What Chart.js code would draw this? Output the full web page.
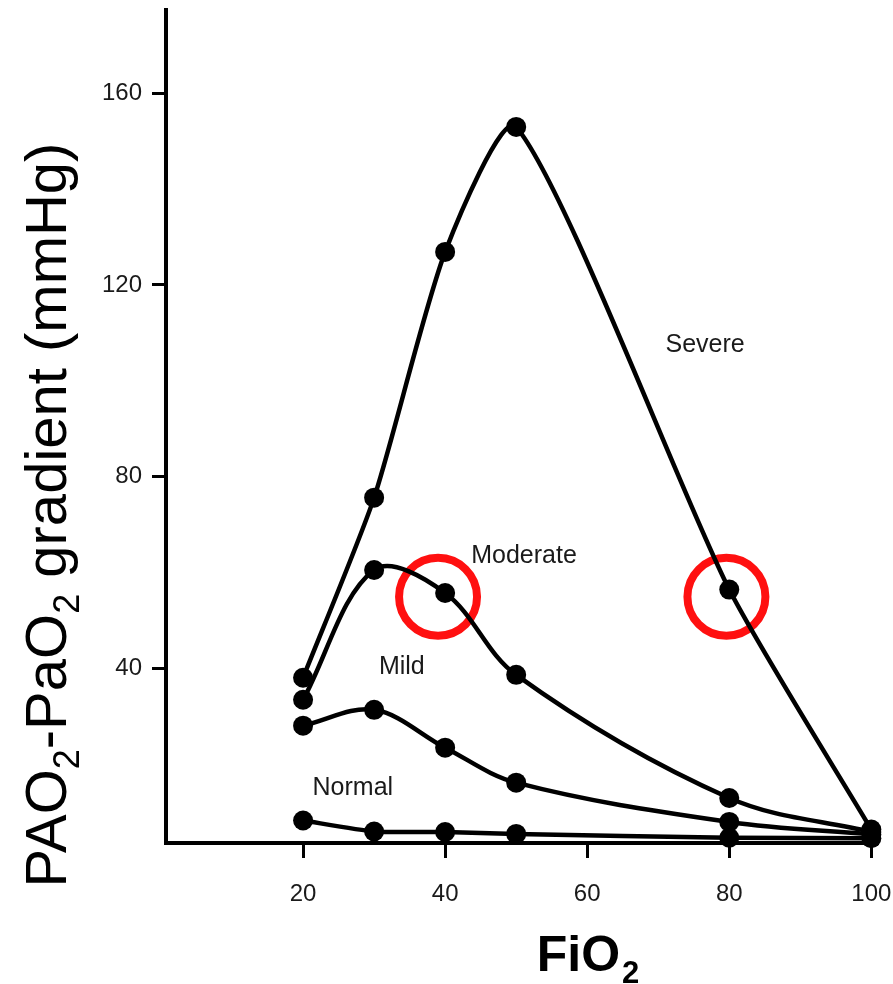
<!DOCTYPE html>
<html>
<head>
<meta charset="utf-8">
<script src="https://cdn.jsdelivr.net/npm/chart.js@4/dist/chart.umd.min.js"></script>
<style>
html,body{margin:0;padding:0;background:#fff;}
#c{display:block;}
</style>
</head>
<body>
<canvas id="c" width="893" height="984"></canvas>
<script>
// ---- data ----
const fio2 = [20, 30, 40, 50, 80, 100];
const severe = [38.0, 75.6, 126.9, 153.0, 56.4, 6.3];
const moderate = [33.4, 60.5, 55.7, 38.6, 12.9, 5.8];
const mild = [28.0, 31.3, 23.4, 16.1, 7.9, 5.3];
const normal = [8.2, 5.9, 5.8, 5.4, 4.6, 4.5];
const xTicks = [20, 40, 60, 80, 100];
const yTicks = [40, 80, 120, 160];
const seriesNames = ['Severe', 'Moderate', 'Mild', 'Normal'];
const nameX = [76.6, 51.1, 33.9, 27.0];
const nameY = [107.5, 63.3, 40.3, 15.0];
const highlightX = [39.0, 79.6];
const highlightY = [54.9, 54.9];

const toPts = (ys) => fio2.map((x, i) => ({x: x, y: ys[i]}));

const lineStyle = {
  borderColor: '#000',
  backgroundColor: '#000',
  borderWidth: 4.5,
  pointRadius: 10,
  pointHoverRadius: 10,
  pointBackgroundColor: '#000',
  pointBorderWidth: 0,
  tension: 0.35,
  clip: false,
  showLine: true,
  fill: false
};

const annotate = {
  id: 'annotate',
  afterDatasetsDraw(chart) {
    const ctx = chart.ctx;
    const xs = chart.scales.x, ys = chart.scales.y;
    ctx.save();
    ctx.fillStyle = '#1a1a1a';
    ctx.font = '25px "Liberation Sans", Arial, sans-serif';
    ctx.textAlign = 'center';
    ctx.textBaseline = 'middle';
    seriesNames.forEach((n, i) => {
      ctx.fillText(n, xs.getPixelForValue(nameX[i]), ys.getPixelForValue(nameY[i]));
    });
    ctx.restore();
  },
  afterDraw(chart) {
    const ctx = chart.ctx;
    // y-axis title, rotated
    const S = 58, s = Math.round(S * 0.62);
    const segs = [['PAO', false], ['2', true], ['-PaO', false], ['2', true], [' gradient (mmHg)', false]];
    ctx.save();
    ctx.fillStyle = '#000';
    ctx.textBaseline = 'alphabetic';
    ctx.textAlign = 'left';
    let W = 0;
    const widths = segs.map(([t, sub]) => {
      ctx.font = (sub ? s : S) + 'px "Liberation Sans", Arial, sans-serif';
      const w = ctx.measureText(t).width; W += w; return w;
    });
    ctx.translate(66, 515);
    ctx.rotate(-Math.PI / 2);
    let x = -W / 2;
    segs.forEach(([t, sub], i) => {
      ctx.font = (sub ? s : S) + 'px "Liberation Sans", Arial, sans-serif';
      ctx.fillText(t, x, sub ? S * 0.22 : 0);
      x += widths[i];
    });
    ctx.restore();

    // x-axis title
    ctx.save();
    ctx.fillStyle = '#000';
    ctx.textBaseline = 'alphabetic';
    ctx.textAlign = 'left';
    ctx.font = 'bold 50px "Liberation Sans", Arial, sans-serif';
    const w1 = ctx.measureText('FiO').width;
    ctx.font = 'bold 31px "Liberation Sans", Arial, sans-serif';
    const w2 = ctx.measureText('2').width;
    const left = 588 - (w1 + w2 + 2) / 2;
    ctx.font = 'bold 50px "Liberation Sans", Arial, sans-serif';
    ctx.fillText('FiO', left, 971);
    ctx.font = 'bold 31px "Liberation Sans", Arial, sans-serif';
    ctx.fillText('2', left + w1 + 2, 983);
    ctx.restore();
  }
};

new Chart(document.getElementById('c'), {
  type: 'scatter',
  data: {
    datasets: [
      Object.assign({label: seriesNames[0], data: toPts(severe)}, lineStyle, {tension: 0.22}),
      Object.assign({label: seriesNames[1], data: toPts(moderate)}, lineStyle),
      Object.assign({label: seriesNames[2], data: toPts(mild)}, lineStyle),
      Object.assign({label: seriesNames[3], data: toPts(normal)}, lineStyle, {tension: 0.2}),
      {
        label: 'highlight',
        data: highlightX.map((x, i) => ({x: x, y: highlightY[i]})),
        showLine: false,
        pointRadius: 39,
        pointHoverRadius: 39,
        pointBorderWidth: 8,
        pointBorderColor: '#ff1010',
        pointBackgroundColor: 'rgba(0,0,0,0)',
        clip: false
      }
    ]
  },
  options: {
    responsive: false,
    devicePixelRatio: 1,
    animation: false,
    events: [],
    layout: {autoPadding: false, padding: {left: 0, top: 10, right: 16, bottom: 0}},
    plugins: {legend: {display: false}, tooltip: {enabled: false}},
    scales: {
      x: {
        type: 'linear',
        min: 0.7,
        max: 100.8,
        afterBuildTicks: (sc) => { sc.ticks = xTicks.map(v => ({value: v})); },
        afterFit: (sc) => { sc.height = 141; sc.paddingLeft = 0; sc.paddingRight = 0; },
        ticks: {
          color: '#1a1a1a',
          font: {family: '"Liberation Sans", Arial, sans-serif', size: 24},
          padding: 22,
          maxRotation: 0,
          autoSkip: false
        },
        grid: {display: true, drawOnChartArea: false, drawTicks: true, tickLength: 15, lineWidth: 3, color: '#000'},
        border: {display: true, color: '#000', width: 4}
      },
      y: {
        type: 'linear',
        min: 3.5,
        max: 177.4,
        afterBuildTicks: (sc) => { sc.ticks = yTicks.map(v => ({value: v})); },
        afterFit: (sc) => { sc.width = 166; sc.paddingTop = 0; sc.paddingBottom = 0; },
        ticks: {
          color: '#1a1a1a',
          font: {family: '"Liberation Sans", Arial, sans-serif', size: 24},
          padding: 10,
          autoSkip: false
        },
        grid: {display: true, drawOnChartArea: false, drawTicks: true, tickLength: 14, lineWidth: 3, color: '#000'},
        border: {display: true, color: '#000', width: 4}
      }
    }
  },
  plugins: [annotate]
});
</script>
</body>
</html>
